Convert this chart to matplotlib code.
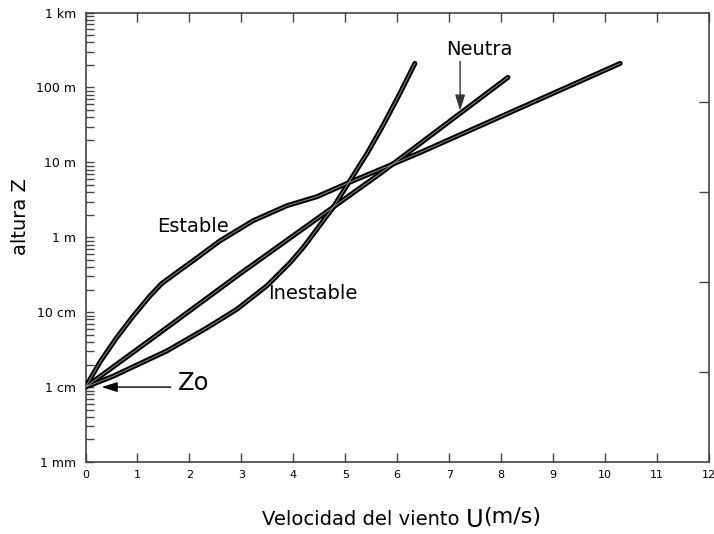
import numpy as np
import matplotlib
matplotlib.use("Agg")
import matplotlib.pyplot as plt
from matplotlib.ticker import FixedLocator, NullFormatter

plt.rcParams['font.family'] = ['DejaVu Sans']

# ---- data (wind speed m/s, height m) ----
estable_u = [0.0, 0.279, 0.600, 0.920, 1.241, 1.467, 1.755, 2.069, 2.589, 3.224, 3.878,
             4.455, 5.09, 5.80, 6.44, 10.29]
estable_z = [0.01, 0.0216, 0.0457, 0.0891, 0.165, 0.241, 0.338, 0.485, 0.897, 1.66, 2.64,
             3.48, 5.44, 8.77, 13.5, 209]

neutra_u = [0.0, 1.434, 2.973, 5.668, 8.13]
neutra_z = [0.01, 0.0532, 0.325, 7.06, 136]

inestable_u = [0.0, 0.535, 1.563, 2.333, 2.910, 3.488, 3.936, 4.186, 4.763, 5.09, 5.418,
               5.726, 6.05, 6.34]
inestable_z = [0.01, 0.0140, 0.0303, 0.0615, 0.109, 0.224, 0.456, 0.724, 2.48, 5.7, 13.1,
               31.1, 83, 209]

x_ticks = list(range(0, 13))
y_ticks = [0.001, 0.01, 0.1, 1, 10, 100, 1000]
y_tick_labels = ['1 mm', '1 cm', '10 cm', '1 m', '10 m', '100 m', '1 km']
right_ticks = [1, 2, 3, 4]

fig = plt.figure(figsize=(7.14, 5.34), dpi=100)
ax = fig.add_axes([85.5 / 714, 1 - 462 / 534, (709 - 85.5) / 714, (462 - 12.5) / 534])

spine_c = '#444444'

for u, z in [(estable_u, estable_z), (neutra_u, neutra_z), (inestable_u, inestable_z)]:
    ax.plot(u, z, color='black', lw=3.6, solid_capstyle='round', solid_joinstyle='round', zorder=3)
    ax.plot(u, z, color='#8a8a8a', lw=0.7, solid_capstyle='round', solid_joinstyle='round', zorder=4)

ax.set_yscale('log')
ax.set_xlim(0, 12)
ax.set_ylim(0.001, 1000)

ax.set_xticks(x_ticks)
ax.set_xticklabels([str(t) for t in x_ticks], fontsize=8)
ax.yaxis.set_major_locator(FixedLocator(y_ticks))
ax.set_yticklabels(y_tick_labels, fontsize=9)
minors = [m * 10.0 ** e for e in range(-3, 3) for m in range(2, 10)]
ax.yaxis.set_minor_locator(FixedLocator(minors))
ax.yaxis.set_minor_formatter(NullFormatter())

ax.tick_params(axis='x', which='major', direction='in', length=6.7, width=1, color=spine_c,
               top=True, bottom=True, pad=6)
ax.tick_params(axis='y', which='both', direction='in', length=6, width=1, color=spine_c,
               left=True, right=False, pad=7)
for s in ax.spines.values():
    s.set_color(spine_c)
    s.set_linewidth(1.2)

ax2 = ax.twinx()
ax2.set_ylim(0, 5)
ax2.set_yticks(right_ticks)
ax2.set_yticklabels([])
ax2.tick_params(axis='y', direction='in', length=7.5, width=1, color=spine_c)
for s in ax2.spines.values():
    s.set_visible(False)

# annotations
ax.text(1.378, 1.185, 'Estable', fontsize=14, ha='left', va='baseline')
ax.text(3.518, 0.148, 'Inestable', fontsize=14, ha='left', va='baseline')
ax.text(6.94, 268, 'Neutra', fontsize=14, ha='left', va='baseline')
ax.annotate('', xy=(7.21, 49), xytext=(7.21, 223),
            arrowprops=dict(arrowstyle='-|>,head_length=0.95,head_width=0.3', color='#333333', lw=1,
                            shrinkA=0, shrinkB=0))
ax.text(1.78, 0.0092, 'Zo', fontsize=17.5, ha='left', va='baseline')
ax.annotate('', xy=(0.31, 0.0100), xytext=(1.64, 0.0100),
            arrowprops=dict(arrowstyle='-|>,head_length=0.95,head_width=0.3', color='black', lw=1,
                            shrinkA=0, shrinkB=0))

fig.text(20 / 714, 1 - 216.5 / 534, 'altura Z', rotation=90, fontsize=14, ha='center', va='center')
fig.text(262 / 714, 1 - 525 / 534, 'Velocidad del viento', fontsize=14, ha='left', va='baseline')
fig.text(466 / 714, 1 - 527 / 534, 'U', fontsize=17.5, ha='left', va='baseline')
fig.text(483 / 714, 1 - 523 / 534, '(m/s)', fontsize=16, ha='left', va='baseline')

fig.savefig('out.png', dpi=100)
